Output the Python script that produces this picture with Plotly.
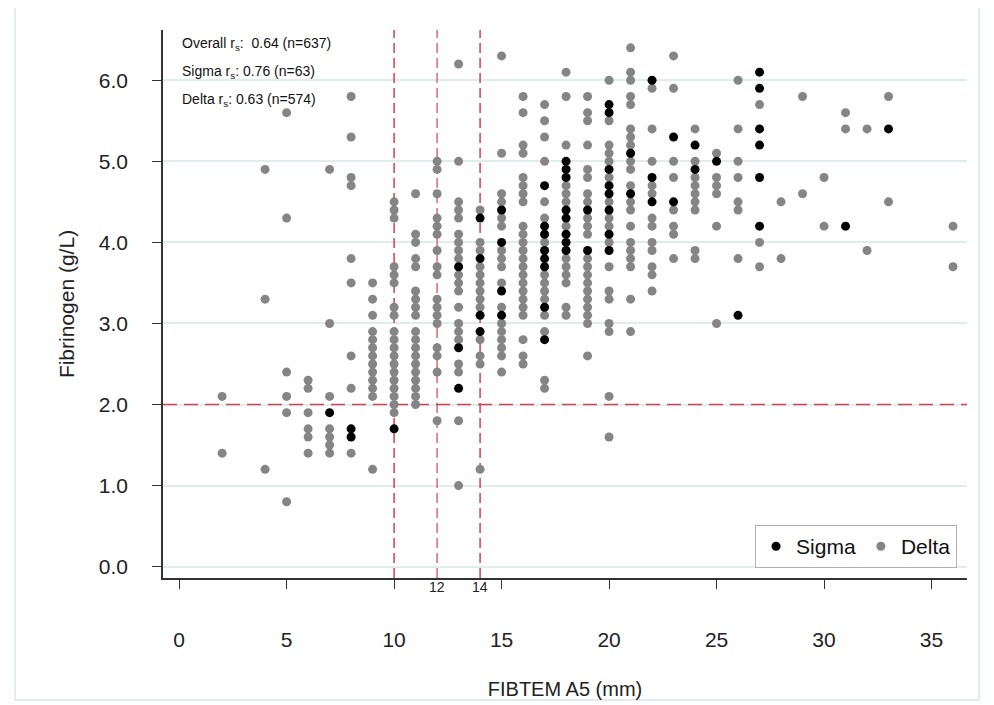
import plotly.graph_objects as go

# FIBTEM A5 (mm) -> fibrinogen values (g/L)
delta_by_a5 = {
    2: [2.1, 1.4],
    4: [4.9, 3.3, 1.2],
    5: [5.6, 4.3, 2.4, 2.1, 1.9, 0.8],
    6: [2.3, 2.2, 1.9, 1.7, 1.6, 1.4],
    7: [4.9, 3.0, 2.1, 1.7, 1.6, 1.5, 1.4],
    8: [5.8, 5.3, 4.8, 4.7, 3.8, 3.5, 2.6, 2.2, 1.4],
    9: [3.5, 3.3, 3.1, 2.9, 2.8, 2.7, 2.6, 2.5, 2.4, 2.3, 2.2, 2.1, 1.2],
    10: [4.5, 4.4, 4.3, 3.7, 3.6, 3.5, 3.2, 3.1, 2.9, 2.8, 2.7, 2.6, 2.5, 2.4, 2.3, 2.2, 2.1, 2.0, 1.9],
    11: [4.6, 4.1, 4.0, 3.8, 3.7, 3.4, 3.3, 3.2, 3.1, 2.9, 2.8, 2.7, 2.6, 2.5, 2.4, 2.3, 2.2, 2.1, 2.0],
    12: [5.0, 4.9, 4.6, 4.3, 4.2, 4.1, 3.9, 3.7, 3.6, 3.3, 3.2, 3.1, 3.0, 2.7, 2.6, 2.4, 1.8],
    13: [6.2, 5.0, 4.5, 4.4, 4.3, 4.1, 4.0, 3.9, 3.8, 3.6, 3.5, 3.4, 3.2, 3.0, 2.9, 2.8, 2.5, 2.4, 1.8, 1.0],
    14: [4.4, 4.0, 3.9, 3.7, 3.6, 3.5, 3.4, 3.3, 3.2, 2.8, 2.6, 2.5, 1.2],
    15: [6.3, 5.1, 4.6, 4.5, 4.3, 4.2, 3.9, 3.8, 3.7, 3.5, 3.2, 3.0, 2.9, 2.8, 2.7, 2.6, 2.4],
    16: [5.8, 5.6, 5.2, 5.1, 4.8, 4.7, 4.6, 4.5, 4.2, 4.1, 4.0, 3.9, 3.8, 3.7, 3.6, 3.5, 3.4, 3.3, 3.2, 3.1, 2.8, 2.6, 2.5],
    17: [5.7, 5.5, 5.3, 5.0, 4.5, 4.3, 4.0, 3.6, 3.5, 3.4, 3.3, 3.1, 2.9, 2.3, 2.2],
    18: [6.1, 5.8, 5.2, 4.7, 4.6, 4.5, 4.2, 3.8, 3.7, 3.6, 3.5, 3.2, 3.1],
    19: [5.8, 5.6, 5.5, 5.2, 4.9, 4.8, 4.6, 4.5, 4.3, 4.2, 4.1, 3.8, 3.7, 3.6, 3.5, 3.4, 3.3, 3.2, 3.1, 3.0, 2.6],
    20: [6.0, 5.5, 5.2, 5.1, 5.0, 4.8, 4.5, 4.3, 4.2, 4.0, 3.7, 3.4, 3.3, 3.0, 2.9, 2.1, 1.6],
    21: [6.4, 6.1, 6.0, 5.8, 5.7, 5.4, 5.3, 5.2, 5.0, 4.9, 4.7, 4.5, 4.4, 4.2, 4.0, 3.9, 3.8, 3.7, 3.3, 2.9],
    22: [5.9, 5.4, 5.0, 4.7, 4.6, 4.3, 4.2, 4.0, 3.9, 3.7, 3.6, 3.4],
    23: [6.3, 5.9, 5.0, 4.8, 4.4, 4.2, 4.1, 3.8],
    24: [5.4, 5.0, 4.8, 4.7, 4.6, 4.5, 4.4, 3.9, 3.8],
    25: [5.1, 4.8, 4.7, 4.6, 4.2, 3.0],
    26: [6.0, 5.4, 5.0, 4.8, 4.5, 4.4, 3.8],
    27: [5.7, 4.0, 3.7],
    28: [4.5, 3.8],
    29: [5.8, 4.6],
    30: [4.8, 4.2],
    31: [5.6, 5.4],
    32: [5.4, 3.9],
    33: [5.8, 4.5],
    36: [4.2, 3.7],
}

sigma_by_a5 = {
    7: [1.9],
    8: [1.7, 1.6],
    10: [1.7],
    13: [3.7, 2.7, 2.2],
    14: [4.3, 3.8, 3.1, 2.9],
    15: [4.4, 4.0, 3.4, 3.1],
    17: [4.7, 4.2, 4.1, 3.9, 3.8, 3.7, 3.2, 2.8],
    18: [5.0, 4.9, 4.8, 4.4, 4.3, 4.1, 4.0, 3.9],
    19: [4.4, 3.9],
    20: [5.7, 5.6, 4.9, 4.7, 4.6, 4.4, 4.1, 3.9],
    21: [5.1, 4.6],
    22: [6.0, 4.8, 4.5],
    23: [5.3, 4.5],
    24: [5.2, 4.9],
    25: [5.0],
    26: [3.1],
    27: [6.1, 5.9, 5.4, 5.2, 4.8, 4.2],
    31: [4.2],
    33: [5.4],
}

x_ticks = [0, 5, 10, 15, 20, 25, 30, 35]
y_ticks = [0, 1, 2, 3, 4, 5, 6]
y_tick_labels = ["0.0", "1.0", "2.0", "3.0", "4.0", "5.0", "6.0"]
cutoffs_a5 = [10, 12, 14]
cutoff_fib = 2.0
stats_lines = [
    "Overall r<sub>s</sub>:  0.64 (n=637)",
    "Sigma r<sub>s</sub>: 0.76 (n=63)",
    "Delta r<sub>s</sub>: 0.63 (n=574)",
]


def flatten(d):
    xs, ys = [], []
    for k, vals in d.items():
        for v in vals:
            xs.append(k)
            ys.append(v)
    return xs, ys


dx, dy = flatten(delta_by_a5)
sx, sy = flatten(sigma_by_a5)

FONT = "Liberation Sans, Arial, sans-serif"
RED = "#d2434f"

fig = go.Figure()
fig.add_trace(go.Scatter(x=dx, y=dy, mode="markers", name="Delta",
                         marker=dict(color="#858585", size=9, line=dict(width=0))))
fig.add_trace(go.Scatter(x=sx, y=sy, mode="markers", name="Sigma",
                         marker=dict(color="#000000", size=9, line=dict(width=0))))

# reference lines (between gridlines and markers)
for c in cutoffs_a5:
    fig.add_shape(type="line", xref="x", yref="y", x0=c, x1=c, y0=-0.14, y1=6.62,
                  line=dict(color=RED, width=1.2 if c == 12 else 1.5, dash="10px,5px"),
                  layer="between")
fig.add_shape(type="line", xref="x", yref="y", x0=-0.75, x1=36.65, y0=cutoff_fib, y1=cutoff_fib,
              line=dict(color=RED, width=1.6, dash="14px,7px"), layer="between")

# faint outer frame of the figure
fig.add_shape(type="rect", xref="paper", yref="paper", x0=-0.184, x1=1.015, y0=-0.2226, y1=1.0456,
              line=dict(color="#dbe8e9", width=1.5), fillcolor="rgba(0,0,0,0)", layer="above")

# small cutoff labels under the axis
for c in cutoffs_a5[1:]:
    fig.add_annotation(x=c, y=0, xref="x", yref="paper", text=str(c), showarrow=False,
                       yshift=-19, font=dict(family="Liberation Sans Narrow, Arial Narrow, sans-serif",
                                             size=14, color="#222"))

for i, t in enumerate(stats_lines):
    fig.add_annotation(x=0.021, y=1, xref="paper", yref="paper", text=t, showarrow=False,
                       xanchor="left", yanchor="middle", yshift=-14 - 28 * i,
                       font=dict(family=FONT, size=14, color="#111"))

fig.update_layout(
    width=994, height=705,
    margin=dict(l=155, r=35, t=22, b=135),
    paper_bgcolor="white", plot_bgcolor="white",
    font=dict(family=FONT, color="#222"),
    legend=dict(orientation="h", traceorder="reversed", x=0.9876, y=0.018,
                xanchor="right", yanchor="bottom", bordercolor="#b0b0b0", borderwidth=1,
                bgcolor="white", font=dict(size=21, color="#111"), itemwidth=30),
    showlegend=True,
)
fig.update_xaxes(range=[-0.75, 36.65], tickvals=x_ticks, ticktext=[str(v) for v in x_ticks],
                 showgrid=False, zeroline=False, showline=True, linecolor="#333", linewidth=1.5,
                 ticks="outside", ticklen=9, tickcolor="#333", tickwidth=1.2, automargin=False,
                 tickfont=dict(size=21, color="#222"), ticklabelstandoff=33,
                 title=dict(text="FIBTEM A5 (mm)", font=dict(size=20, color="#222"), standoff=32))
fig.update_yaxes(range=[-0.14, 6.62], tickvals=y_ticks, ticktext=y_tick_labels,
                 showgrid=True, gridcolor="#dfeded", gridwidth=2, zeroline=False,
                 showline=True, linecolor="#333", linewidth=1.5, automargin=False,
                 ticks="outside", ticklen=9, tickcolor="#333", tickwidth=1.2,
                 tickfont=dict(size=21, color="#222"), ticklabelstandoff=20,
                 title=dict(text="Fibrinogen (g/L)", font=dict(size=21, color="#222"), standoff=18))

fig.write_html("out.html")
